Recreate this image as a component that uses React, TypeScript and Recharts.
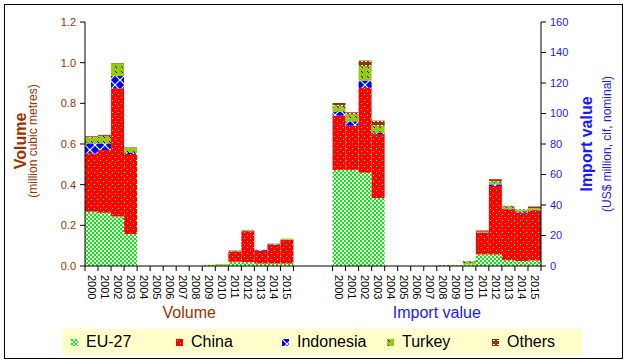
import React from 'react';
import { BarChart, Bar, XAxis, YAxis } from 'recharts';

const years = ['2000', '2001', '2002', '2003', '2004', '2005', '2006', '2007', '2008', '2009', '2010', '2011', '2012', '2013', '2014', '2015'];

// volume, million m3
const volEU = [0.267, 0.262, 0.243, 0.157, 0, 0, 0, 0, 0, 0.005, 0.004, 0.021, 0.019, 0.012, 0.012, 0.012];
const volChina = [0.287, 0.308, 0.631, 0.394, 0, 0, 0, 0, 0, 0, 0, 0.05, 0.152, 0.062, 0.092, 0.116];
const volIndonesia = [0.049, 0.033, 0.061, 0.005, 0, 0, 0, 0, 0, 0, 0, 0.002, 0.002, 0.004, 0.003, 0.001];
const volTurkey = [0.03, 0.037, 0.059, 0.024, 0, 0, 0, 0, 0, 0.001, 0.005, 0.003, 0.004, 0.001, 0.002, 0.004];
const volOthers = [0.005, 0.005, 0.003, 0.003, 0, 0, 0, 0, 0, 0, 0, 0.001, 0.001, 0.001, 0.001, 0.001];

// import value, US$ million
const valEU = [63.0, 63.0, 61.1, 44.6, 0, 0, 0, 0, 0, 0.6, 1.0, 7.6, 7.6, 3.8, 3.3, 3.6];
const valChina = [35.6, 29.0, 55.7, 41.9, 0, 0, 0, 0, 0, 0, 0, 14.2, 44.9, 33.4, 31.7, 32.9];
const valIndonesia = [2.6, 2.8, 4.8, 0.8, 0, 0, 0, 0, 0, 0, 0, 0.2, 1.0, 0.2, 0.8, 0.3];
const valTurkey = [3.9, 4.6, 9.4, 4.7, 0, 0, 0, 0, 0, 0, 2.2, 0.5, 1.9, 1.8, 1.2, 1.2];
const valOthers = [1.8, 1.4, 3.7, 3.3, 0, 0, 0, 0, 0.5, 0, 0, 0.8, 1.5, 0.3, 0.3, 1.0];

const volTicks = [0, 0.2, 0.4, 0.6, 0.8, 1.0, 1.2];
const valTicks = [0, 20, 40, 60, 80, 100, 120, 140, 160];
const gapCount = 3;

const series = [
  { name: 'EU-27', v: 'vEU', p: 'pEU', fill: 'url(#pat-eu)', vol: volEU, val: valEU },
  { name: 'China', v: 'vCN', p: 'pCN', fill: 'url(#pat-cn)', vol: volChina, val: valChina },
  { name: 'Indonesia', v: 'vID', p: 'pID', fill: 'url(#pat-id)', vol: volIndonesia, val: valIndonesia },
  { name: 'Turkey', v: 'vTR', p: 'pTR', fill: 'url(#pat-tr)', vol: volTurkey, val: valTurkey },
  { name: 'Others', v: 'vOT', p: 'pOT', fill: 'url(#pat-ot)', vol: volOthers, val: valOthers },
];

type Row = { key: string; label: string; group: string; [k: string]: any };

const makeRow = (key: string, label: string, group: string, i: number): Row => {
  const r: Row = { key, label, group };
  series.forEach((s) => {
    r[s.v] = group === 'vol' ? s.vol[i] : 0;
    r[s.p] = group === 'val' ? s.val[i] : 0;
  });
  return r;
};

const rows: Row[] = [
  ...years.map((y, i) => makeRow('v' + y, y, 'vol', i)),
  ...Array.from({ length: gapCount }, (_, i) => makeRow('gap' + i, '', 'gap', 0)),
  ...years.map((y, i) => makeRow('p' + y, y, 'val', i)),
];

const BROWN = '#993300';
const BLUE = '#1a1aff';
const FONT = '"Liberation Sans", Arial, sans-serif';

const Patterns = () => (
  <svg width={0} height={0} style={{ position: 'absolute' }}>
    <defs>
      <pattern id="pat-eu" width={4} height={4} patternUnits="userSpaceOnUse">
        <rect width={4} height={4} fill="#ffffff" />
        <rect width={2} height={2} fill="#00ee00" />
        <rect x={2} y={2} width={2} height={2} fill="#00ee00" />
      </pattern>
      <pattern id="pat-cn" width={6} height={6} patternUnits="userSpaceOnUse">
        <rect width={6} height={6} fill="#ff0000" />
        <rect x={1} y={1} width={1} height={1} fill="#ffff00" />
        <rect x={4} y={4} width={1} height={1} fill="#ffff00" />
      </pattern>
      <pattern id="pat-id" width={10} height={10} patternUnits="userSpaceOnUse">
        <rect width={10} height={10} fill="#0000ff" />
        <path d="M0,0L10,10M10,0L0,10" stroke="#ffffff" strokeWidth={1.2} />
      </pattern>
      <pattern id="pat-tr" width={6} height={5} patternUnits="userSpaceOnUse">
        <rect width={6} height={5} fill="#99cc00" />
        <path d="M1,1L3,3" stroke="#0000ff" strokeWidth={1} />
      </pattern>
      <pattern id="pat-ot" width={4} height={4} patternUnits="userSpaceOnUse">
        <rect width={4} height={4} fill="#993300" />
        <rect x={1} y={1} width={2} height={1} fill="#ffffff" />
      </pattern>
    </defs>
  </svg>
);

const XTick = (props: any) => {
  const { x, y, payload } = props;
  const row = rows[payload.index];
  const half = payload.offset || 456 / rows.length / 2;
  if (!row || !row.label) return null;
  return (
    <g>
      <line x1={x - half} x2={x - half} y1={y} y2={y + 5} stroke="#000" />
      {row.label === '2015' && <line x1={x + half} x2={x + half} y1={y} y2={y + 5} stroke="#000" />}
      <text transform={`translate(${x},${y + 9}) rotate(90)`} dy="0.35em" fontSize={11} fill="#000" fontFamily={FONT}>
        {row.label}
      </text>
      {row.label === '2008' && (
        <text x={x - half} y={y + 52} textAnchor="middle" fontSize={16} fontFamily={FONT} fill={row.group === 'vol' ? BROWN : BLUE}>
          {row.group === 'vol' ? 'Volume' : 'Import value'}
        </text>
      )}
    </g>
  );
};

const VolTitle = (props: any) => {
  const vb = props.viewBox || { y: 22, height: 244 };
  const cy = vb.y + vb.height / 2 - 3;
  return (
    <g fontFamily={FONT}>
      <text transform={`translate(26,${cy}) rotate(-90)`} textAnchor="middle" fontSize={16} fontWeight="bold" fill={BROWN}>Volume</text>
      <text transform={`translate(37,${cy}) rotate(-90)`} textAnchor="middle" fontSize={12} fill={BROWN}>(million cubic metres)</text>
    </g>
  );
};

const ValTitle = (props: any) => {
  const vb = props.viewBox || { x: 541, y: 22, height: 244 };
  const cy = vb.y + vb.height / 2;
  return (
    <g fontFamily={FONT}>
      <text transform={`translate(${vb.x + 51},${cy}) rotate(-90)`} textAnchor="middle" fontSize={16} fontWeight="bold" fill={BLUE}>Import value</text>
      <text transform={`translate(${vb.x + 70},${cy}) rotate(-90)`} textAnchor="middle" fontSize={12} fill={BLUE}>(US$ million, cif, nominal)</text>
    </g>
  );
};

const legendX = [9, 114, 220, 325, 430];

const Legend = () => (
  <div style={{ position: 'absolute', left: 62, top: 329, width: 520, height: 26, background: '#ffffcc', fontFamily: FONT, fontSize: 16 }}>
    {series.map((s, i) => (
      <div key={s.name} style={{ position: 'absolute', left: legendX[i], top: 3, height: 20, display: 'flex', alignItems: 'center' }}>
        <svg width={7} height={7} style={{ marginRight: 8 }}>
          <rect width={7} height={7} fill={s.fill} />
        </svg>
        <span>{s.name}</span>
      </div>
    ))}
  </div>
);

export default function App() {
  return (
    <div style={{ position: 'absolute', left: 0, top: 0, width: 628, height: 362, background: '#fff' }}>
      <Patterns />
      <div style={{ position: 'absolute', left: 4, top: 4, width: 619, height: 355, border: '1px solid #000', boxSizing: 'border-box' }} />
      <div style={{ position: 'absolute', left: 0, top: 0 }}>
        <BarChart width={628} height={362} data={rows} barCategoryGap={0} barGap={0} margin={{ top: 22, right: 0, bottom: 0, left: 0 }}>
          <XAxis dataKey="key" height={96} interval={0} tickLine={false} tickSize={0} tickMargin={0} axisLine={{ stroke: '#000' }} tick={<XTick />} />
          <YAxis
            yAxisId="vol"
            orientation="left"
            width={85}
            domain={[0, 1.2]}
            ticks={volTicks}
            allowDataOverflow
            tickFormatter={(v: number) => v.toFixed(1)}
            tick={{ fill: BROWN, fontSize: 11, fontFamily: FONT }}
            tickSize={5}
            tickMargin={4}
            axisLine={{ stroke: '#000' }}
            tickLine={{ stroke: '#000' }}
            label={{ content: (p: any) => <VolTitle {...p} /> }}
          />
          <YAxis
            yAxisId="val"
            orientation="right"
            width={87}
            domain={[0, 160]}
            ticks={valTicks}
            allowDataOverflow
            tick={{ fill: BLUE, fontSize: 11, fontFamily: FONT }}
            tickSize={5}
            tickMargin={4}
            axisLine={{ stroke: '#000' }}
            tickLine={{ stroke: '#000' }}
            label={{ content: (p: any) => <ValTitle {...p} /> }}
          />
          {series.map((s) => (
            <Bar key={s.v} dataKey={s.v} name={s.name} yAxisId="vol" stackId="s" fill={s.fill} isAnimationActive={false} />
          ))}
          {series.map((s) => (
            <Bar key={s.p} dataKey={s.p} name={s.name} yAxisId="val" stackId="s" fill={s.fill} isAnimationActive={false} />
          ))}
        </BarChart>
      </div>
      <Legend />
    </div>
  );
}
